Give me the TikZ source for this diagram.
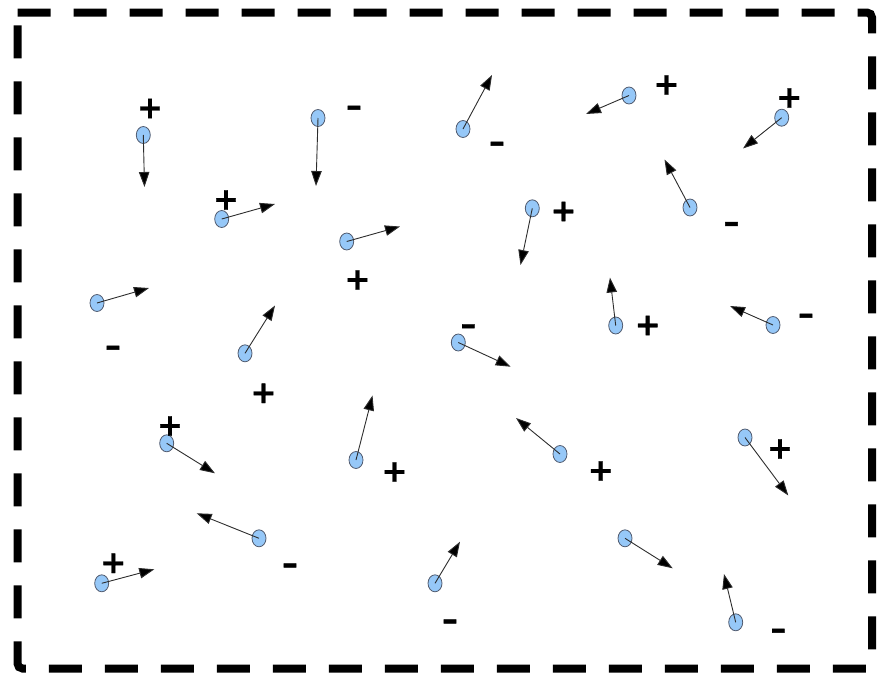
\documentclass[tikz,border=0pt]{standalone}
\usepackage{fontspec}
\newfontfamily\signfont{DejaVu Sans Bold}[FakeBold=1.2]
\usetikzlibrary{arrows.meta,shapes.geometric}
\definecolor{partfill}{RGB}{150,200,248}
\definecolor{partline}{RGB}{80,90,110}
\definecolor{vecline}{RGB}{45,45,45}
\tikzset{
  particle/.style={ellipse, draw=partline, fill=partfill, line width=0.8pt,
    minimum width=14pt, minimum height=17pt, inner sep=0pt},
  vec/.style={draw=vecline, line width=0.9pt, -{Triangle[length=15pt,width=10.5pt,fill=black]}},
  sgn/.style={inner sep=0pt, font=\signfont\fontsize{31}{31}\selectfont},
  neg/.style={sgn, yshift=-3pt},
  border/.style={line width=8pt, dash pattern=on 33pt off 23pt, rounded corners=5pt}
}
\begin{document}
\begin{tikzpicture}[x=1pt,y=-1pt]
\useasboundingbox (0,0) rectangle (883,675);
\draw[border] (17.5,12.5) -- (872,12.5) -- (872,668.5) -- (17.5,668.5) -- (17.5,12.5);
\foreach \i/\x/\y/\tx/\ty in {
  1/143.3/135/144.5/187,
  2/318/118/316/186,
  3/463/129/492/75,
  4/629/95.5/586/114,
  5/781.7/117.7/743/148.5,
  6/221.7/219/275/204,
  7/346.7/241.5/400/226.5,
  8/532.3/208.3/520.5/265,
  9/690/207.5/664.5/159.5,
  10/97/303/149/288,
  11/245/353.3/275/305.5,
  12/458.3/342.5/510.7/366.7,
  13/615.7/325.5/610/277.5,
  14/773/325/730/306,
  15/166.7/443.3/215/473.3,
  16/356/460/372.5/395.5,
  17/560/454/516/418,
  18/745/437.5/788.3/495.5,
  19/259/538.3/196.7/513.3,
  20/101.7/583.3/154.3/569.3,
  21/435/583.3/460/541.7,
  22/625/538.3/672.7/568.3,
  23/735.7/622.3/724/574}
{
  \node[particle] (p\i) at (\x,\y) {};
  \coordinate (t\i) at (\tx,\ty);
}
\foreach \i in {1,...,23} \draw[vec] (p\i.center) -- (t\i);
\foreach \i/\x/\y in {
  1/150/108.5,
  4/666.5/85,
  5/789.3/98,
  6/226/200,
  7/357.5/280,
  8/563.5/211.5,
  11/263.5/393.3,
  13/647.7/325.5,
  15/170/426,
  16/394.5/472,
  17/600.7/471,
  18/780/449,
  20/113.3/563.3}
{
  \node[sgn] (s\i) at (\x,\y) {+};
}
\foreach \i/\x/\y in {
  2/354/108,
  3/497/144,
  9/731.5/224.3,
  10/113/348,
  12/468.3/326.5,
  14/806/316,
  19/290/565.7,
  21/450/621.7,
  23/778.3/631}
{
  \node[neg] (s\i) at (\x,\y) {–};
}
\end{tikzpicture}
\end{document}
